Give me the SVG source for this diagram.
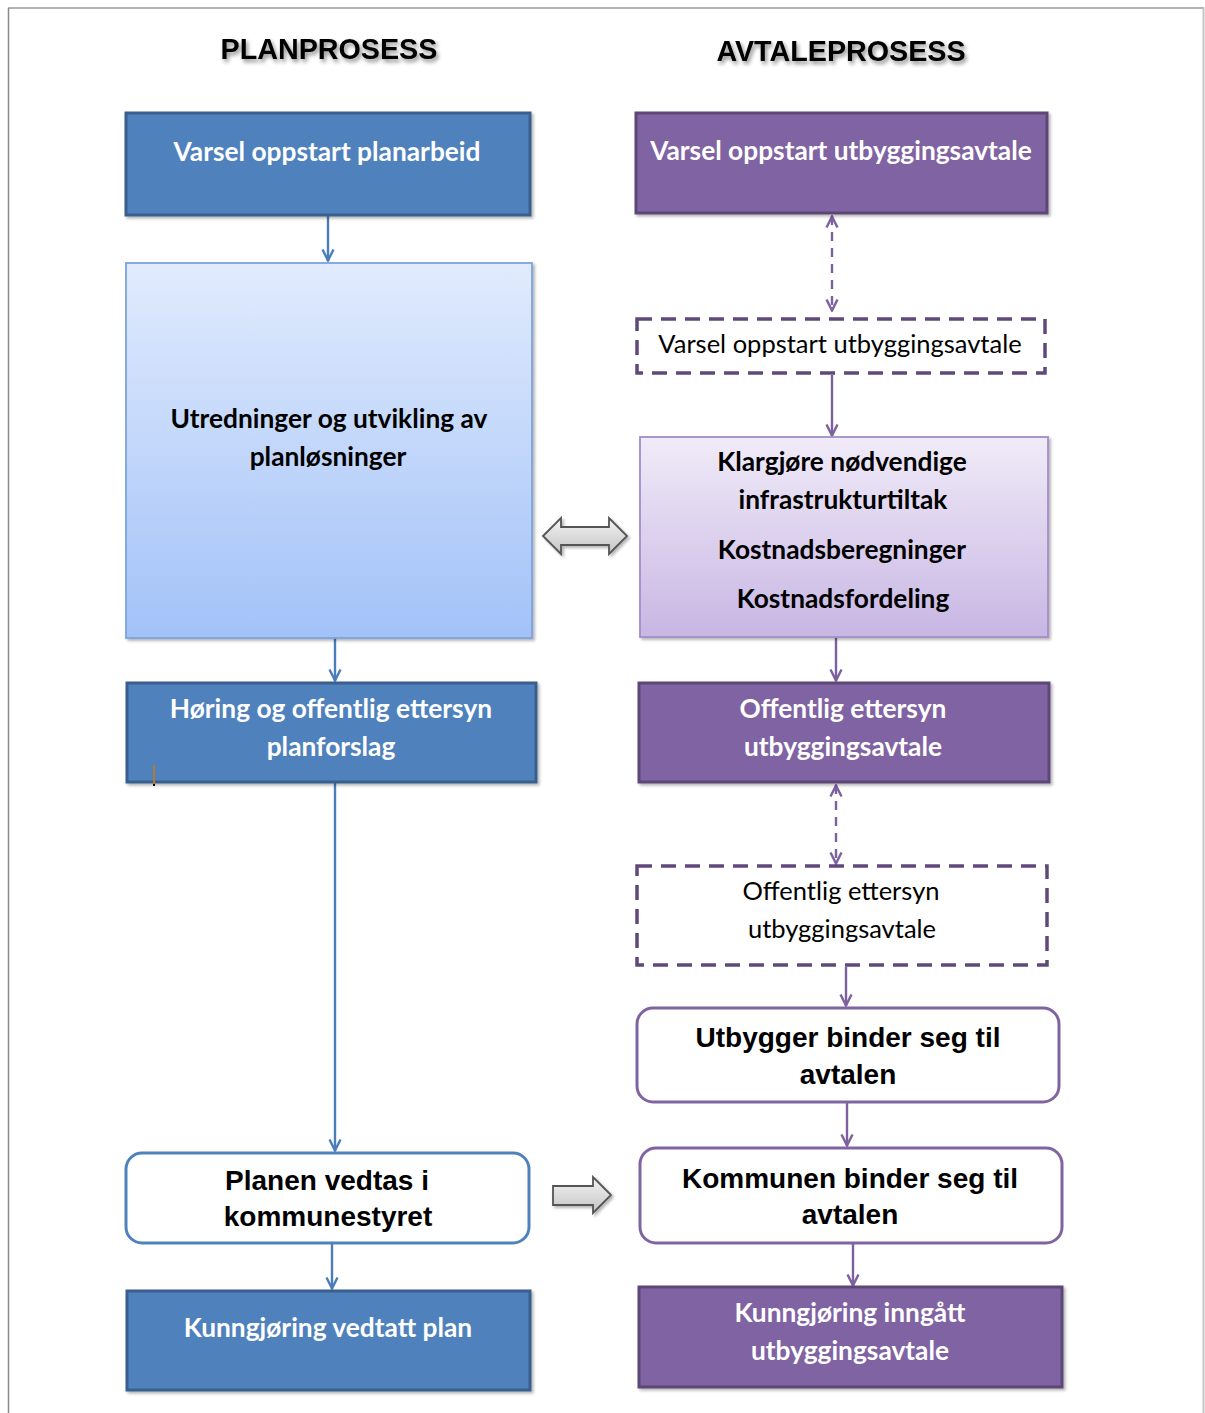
<svg xmlns="http://www.w3.org/2000/svg" width="1205" height="1413" viewBox="0 0 1205 1413">
<defs>
<style>
.cal{font-family:Lato,"Open Sans","Liberation Sans",sans-serif;font-size:26.3px;text-anchor:middle}
.reg{font-size:25.5px}
.b{font-weight:bold}
.w{fill:#ffffff}
.k{fill:#000000}
.ar{font-family:"Liberation Sans",Arial,sans-serif;font-weight:bold;font-size:28px;text-anchor:middle;fill:#000}
.title{font-family:"Liberation Sans",Arial,sans-serif;font-weight:bold;font-size:28.7px;text-anchor:middle;fill:#000}
.blue{fill:#4F81BD;stroke:#3A5F8D;stroke-width:3}
.purple{fill:#8064A2;stroke:#5C4776;stroke-width:3}
.dash{fill:#fff;stroke:#5F497A;stroke-width:3.5;stroke-dasharray:15 9}
.rb{fill:#fff;stroke:#4F81BD;stroke-width:3}
.rp{fill:#fff;stroke:#8064A2;stroke-width:3}
.cb{stroke:#4A7EBB;stroke-width:2.4;fill:none;marker-end:url(#mb)}
.cp{stroke:#7D60A0;stroke-width:2.4;fill:none;marker-end:url(#mp)}
.cd{stroke:#7D60A0;stroke-width:2.4;fill:none;stroke-dasharray:9 7;marker-end:url(#mp);marker-start:url(#mp)}
.ga{fill:url(#gg);stroke:#555;stroke-width:1.8;stroke-linejoin:miter}
</style>
<linearGradient id="gblue" x1="0" y1="0" x2="0" y2="1">
<stop offset="0" stop-color="#E1EBFD"/>
<stop offset="1" stop-color="#A2C2F8"/>
</linearGradient>
<linearGradient id="gpur" x1="0" y1="0" x2="0" y2="1">
<stop offset="0" stop-color="#F0EBF8"/>
<stop offset="1" stop-color="#C8B6E3"/>
</linearGradient>
<linearGradient id="gg" x1="0" y1="0" x2="0" y2="1">
<stop offset="0" stop-color="#F4F4F4"/>
<stop offset="1" stop-color="#C4C4C4"/>
</linearGradient>
<marker id="mb" viewBox="0 0 14 14" refX="13" refY="7" markerWidth="14" markerHeight="14" markerUnits="userSpaceOnUse" orient="auto-start-reverse">
<path d="M1.5,1.5 L12.5,7 L1.5,12.5" fill="none" stroke="#4A7EBB" stroke-width="2.4"/>
</marker>
<marker id="mp" viewBox="0 0 14 14" refX="13" refY="7" markerWidth="14" markerHeight="14" markerUnits="userSpaceOnUse" orient="auto-start-reverse">
<path d="M1.5,1.5 L12.5,7 L1.5,12.5" fill="none" stroke="#7D60A0" stroke-width="2.4"/>
</marker>
<filter id="sh" x="-5%" y="-5%" width="115%" height="120%">
<feGaussianBlur in="SourceAlpha" stdDeviation="1.5"/>
<feOffset dx="1.5" dy="2" result="o"/>
<feComponentTransfer><feFuncA type="linear" slope="0.3"/></feComponentTransfer>
<feMerge><feMergeNode/><feMergeNode in="SourceGraphic"/></feMerge>
</filter>
<filter id="tsh" x="-10%" y="-30%" width="120%" height="170%">
<feGaussianBlur in="SourceAlpha" stdDeviation="2"/>
<feOffset dx="2" dy="3"/>
<feComponentTransfer><feFuncA type="linear" slope="0.45"/></feComponentTransfer>
<feMerge><feMergeNode/><feMergeNode in="SourceGraphic"/></feMerge>
</filter>
</defs>
<rect x="0" y="0" width="1205" height="1413" fill="#fff"/>
<g id="page-border" fill="none">
<line x1="8" y1="8" x2="1204" y2="8" stroke="#9A9A9A" stroke-width="1.5"/>
<line x1="8.5" y1="8" x2="8.5" y2="1413" stroke="#8A8A8A" stroke-width="1.5"/>
<line x1="1203.5" y1="8" x2="1203.5" y2="1413" stroke="#C4C4C4" stroke-width="2"/>
</g>
<g id="titles">
<text class="title" x="329" y="59" filter="url(#tsh)">PLANPROSESS</text>
<text class="title" x="841" y="61" filter="url(#tsh)">AVTALEPROSESS</text>
</g>
<g id="connectors">
<line class="cb" x1="328" y1="216" x2="328" y2="261"/>
<line class="cb" x1="335" y1="638" x2="335" y2="681"/>
<line class="cb" x1="335" y1="783" x2="335" y2="1151"/>
<line class="cb" x1="332" y1="1244" x2="332" y2="1289"/>
<line class="cd" x1="832" y1="216" x2="832" y2="311"/>
<line class="cp" x1="832" y1="375" x2="832" y2="436"/>
<line class="cp" x1="836" y1="638" x2="836" y2="681"/>
<line class="cd" x1="836" y1="785" x2="836" y2="864"/>
<line class="cp" x1="846" y1="967" x2="846" y2="1006"/>
<line class="cp" x1="847" y1="1103" x2="847" y2="1146"/>
<line class="cp" x1="853" y1="1244" x2="853" y2="1286"/>
<path id="dbl-arrow" class="ga" filter="url(#sh)" d="M543,536 L561,518 L561,527 L609,527 L609,518 L627,536 L609,554 L609,545 L561,545 L561,554 Z"/>
<path id="right-arrow" class="ga" filter="url(#sh)" d="M553,1186 L593,1186 L593,1177 L611,1195 L593,1213 L593,1205 L553,1205 Z"/>
</g>
<g id="n-varsel-plan">
<rect class="blue" x="126" y="113" width="404" height="102" filter="url(#sh)"/>
<text class="cal b w" x="327" y="161">Varsel oppstart planarbeid</text>
</g>
<g id="n-utredninger">
<rect x="126" y="263" width="406" height="375" fill="url(#gblue)" stroke="#7CA3DC" stroke-width="1.8" filter="url(#sh)"/>
<text class="cal b k" x="329" y="428">Utredninger og utvikling av</text>
<text class="cal b k" x="328" y="466">planløsninger</text>
</g>
<g id="n-horing">
<rect class="blue" x="127" y="683" width="409" height="99" filter="url(#sh)"/>
<text class="cal b w" x="331" y="718">Høring og offentlig ettersyn</text>
<text class="cal b w" x="331" y="756">planforslag</text>
<line x1="154" y1="765" x2="154" y2="785" stroke="#B07A35" stroke-width="2"/>
<rect x="153" y="784" width="2" height="2" fill="#000"/>
</g>
<g id="n-vedtas">
<rect class="rb" x="126" y="1153" width="403" height="90" rx="16"/>
<text class="ar" x="327" y="1190">Planen vedtas i</text>
<text class="ar" x="328" y="1226">kommunestyret</text>
</g>
<g id="n-kunngjoring-plan">
<rect class="blue" x="127" y="1291" width="403" height="99" filter="url(#sh)"/>
<text class="cal b w" x="328" y="1337">Kunngjøring vedtatt plan</text>
</g>
<g id="n-varsel-avtale">
<rect class="purple" x="636" y="113" width="411" height="100" filter="url(#sh)"/>
<text class="cal b w" x="841" y="160">Varsel oppstart utbyggingsavtale</text>
</g>
<g id="n-varsel-avtale-dashed">
<rect class="dash" x="637" y="319" width="408" height="54"/>
<text class="cal reg k" x="840" y="353">Varsel oppstart utbyggingsavtale</text>
</g>
<g id="n-klargjore">
<rect x="640" y="437" width="408" height="200" fill="url(#gpur)" stroke="#A38CC9" stroke-width="1.8" filter="url(#sh)"/>
<text class="cal b k" x="842" y="471">Klargjøre nødvendige</text>
<text class="cal b k" x="843" y="509">infrastrukturtiltak</text>
<text class="cal b k" x="842" y="559">Kostnadsberegninger</text>
<text class="cal b k" x="843" y="608">Kostnadsfordeling</text>
</g>
<g id="n-offentlig">
<rect class="purple" x="639" y="683" width="410" height="99" filter="url(#sh)"/>
<text class="cal b w" x="843" y="718">Offentlig ettersyn</text>
<text class="cal b w" x="843" y="756">utbyggingsavtale</text>
</g>
<g id="n-offentlig-dashed">
<rect class="dash" x="637" y="866" width="410" height="99"/>
<text class="cal reg k" x="841" y="900">Offentlig ettersyn</text>
<text class="cal reg k" x="842" y="938">utbyggingsavtale</text>
</g>
<g id="n-utbygger">
<rect class="rp" x="637" y="1008" width="422" height="94" rx="16"/>
<text class="ar" x="848" y="1047">Utbygger binder seg til</text>
<text class="ar" x="848" y="1084">avtalen</text>
</g>
<g id="n-kommunen">
<rect class="rp" x="640" y="1148" width="422" height="95" rx="16"/>
<text class="ar" x="850" y="1188">Kommunen binder seg til</text>
<text class="ar" x="850" y="1224">avtalen</text>
</g>
<g id="n-kunngjoring-avtale">
<rect class="purple" x="639" y="1287" width="423" height="100" filter="url(#sh)"/>
<text class="cal b w" x="850" y="1322">Kunngjøring inngått</text>
<text class="cal b w" x="850" y="1360">utbyggingsavtale</text>
</g>
</svg>
